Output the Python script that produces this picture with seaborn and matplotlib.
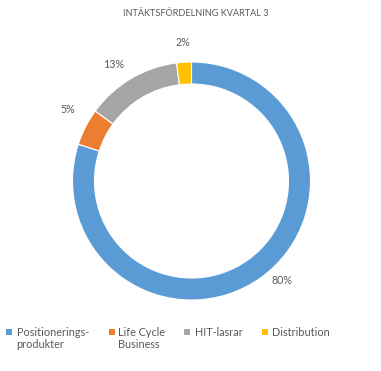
import matplotlib
matplotlib.use("Agg")
import matplotlib.pyplot as plt
import seaborn as sns
from matplotlib.patches import Rectangle

categories = ["Positionerings-\nprodukter", "Life Cycle\nBusiness", "HIT-lasrar", "Distribution"]
values = [80, 5, 13, 2]
labels_pct = ["80%", "5%", "13%", "2%"]
colors = ["#5B9BD5", "#ED7D31", "#A5A5A5", "#FFC000"]
title = "INTÄKTSFÖRDELNING KVARTAL 3"

sns.set_theme(style="white")
plt.rcParams['font.family'] = ['Lato', 'DejaVu Sans']
txt = "#595959"

W, H = 381, 371
fig = plt.figure(figsize=(W / 100, H / 100), dpi=100)
cx, cy, r = 191.5, 181, 119
L = 1.25
half = r * L
ax = fig.add_axes([(cx - half) / W, (H - cy - half) / H, 2 * half / W, 2 * half / H])

wedges, texts = ax.pie(values, colors=colors, startangle=90, counterclock=False,
                       labels=labels_pct, labeldistance=1.17,
                       wedgeprops=dict(width=0.185, edgecolor="white", linewidth=0.8),
                       textprops=dict(color=txt, fontsize=7.7))
for t in texts:
    t.set_ha("center")
    t.set_va("center")
# Excel places the big slice's label nearer the lower right
texts[0].set_position((0.76, -0.84))
texts[1].set_position((-1.04, 0.60))
texts[2].set_position((-0.65, 0.98))
ax.set_xlim(-L, L)
ax.set_ylim(-L, L)
ax.set_aspect("equal")
ax.axis("off")

fig.text(196 / W, 1 - 14 / H, title, ha="center", va="center", color=txt, fontsize=6.6)

# legend drawn at the bottom, square aligned with first text line
sq_x = [6, 109, 184, 262]
tx_x = [16.5, 118, 194.5, 272]
for c, lab, sx, tx in zip(colors, categories, sq_x, tx_x):
    fig.patches.append(Rectangle((sx / W, 1 - 335 / H), 6 / W, 6 / H,
                                 transform=fig.transFigure, facecolor=c, edgecolor="none"))
    fig.text(tx / W, 1 - 326.5 / H, lab, ha="left", va="top", color=txt,
             fontsize=7.8, linespacing=1.2)

fig.savefig("out.png", dpi=100)
